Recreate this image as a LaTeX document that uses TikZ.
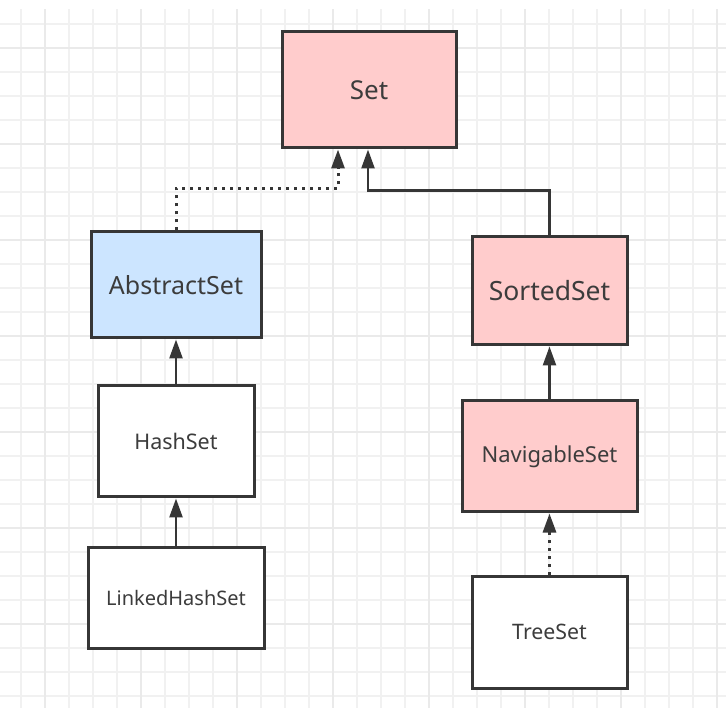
\documentclass[tikz,border=0pt]{standalone}
\usepackage{fontspec}
\setmainfont{Noto Sans}
\usetikzlibrary{positioning,arrows.meta}
\definecolor{pinkfill}{HTML}{FFCCCC}
\definecolor{bluefill}{HTML}{CCE5FF}
\definecolor{edgegray}{HTML}{363636}
\definecolor{textgray}{HTML}{3C3C3C}
\definecolor{gridminor}{HTML}{F1F1F1}
\definecolor{gridmajor}{HTML}{EAEAEA}
\tikzset{fs/.style={font=\fontsize{#1}{#1}\selectfont}}

\begin{document}
\begin{tikzpicture}[x=1pt,y=-1pt]
    \tikzstyle{every node}=[rectangle,draw=edgegray,line width=3,text=textgray,inner sep=0]
    \tikzstyle{cls}=[fill=white]
    \tikzstyle{iface}=[fill=pinkfill]
    \tikzstyle{abst}=[fill=bluefill]
    \tikzstyle{link}=[draw=edgegray,line width=2.5,-{Triangle[length=19pt,width=13pt]}]
    \tikzstyle{impl}=[link,line width=3,dash pattern=on 3pt off 5pt]

    \useasboundingbox (0,0) rectangle (726,708);
    % background grid
    \begin{scope}[shift={(45,48)}]
        \draw[gridminor,line width=1.5,step=24pt] (-45,-39) grid (681,660);
        \draw[gridmajor,line width=2,step=96pt] (-45,-39) grid (681,660);
    \end{scope}

    % left branch
    \node[iface,fs=26,minimum width=174,minimum height=116] (set) at (369,90) {Set};
    \node[abst,fs=25,minimum width=170,minimum height=106] (abstractset) at (176,285) {AbstractSet};
    \node[cls,fs=21.5,minimum width=156,minimum height=111] (hashset) at (176,441.5) {HashSet};
    \node[cls,fs=20,minimum width=176,minimum height=101] (linkedhashset) at (176,597.5) {LinkedHashSet};
    % right branch
    \node[iface,fs=26.5,minimum width=155,minimum height=108] (sortedset) at (549.5,291) {SortedSet};
    \node[iface,fs=22,minimum width=175,minimum height=111] (navigableset) at (549.5,456.5) {NavigableSet};
    \node[cls,fs=21.3,minimum width=155,minimum height=112] (treeset) at (549.5,632) {TreeSet};

    \draw[impl] (abstractset.north) -- ++(0,-42) -| ([xshift=-31]set.south);
    \draw[link] (sortedset.north) -- ++(0,-45) -| ([xshift=-1]set.south);
    \draw[link] (hashset) -- (abstractset);
    \draw[link] (linkedhashset) -- (hashset);
    \draw[link] (navigableset) -- (sortedset);
    \draw[impl] (treeset) -- (navigableset);
\end{tikzpicture}
\end{document}
